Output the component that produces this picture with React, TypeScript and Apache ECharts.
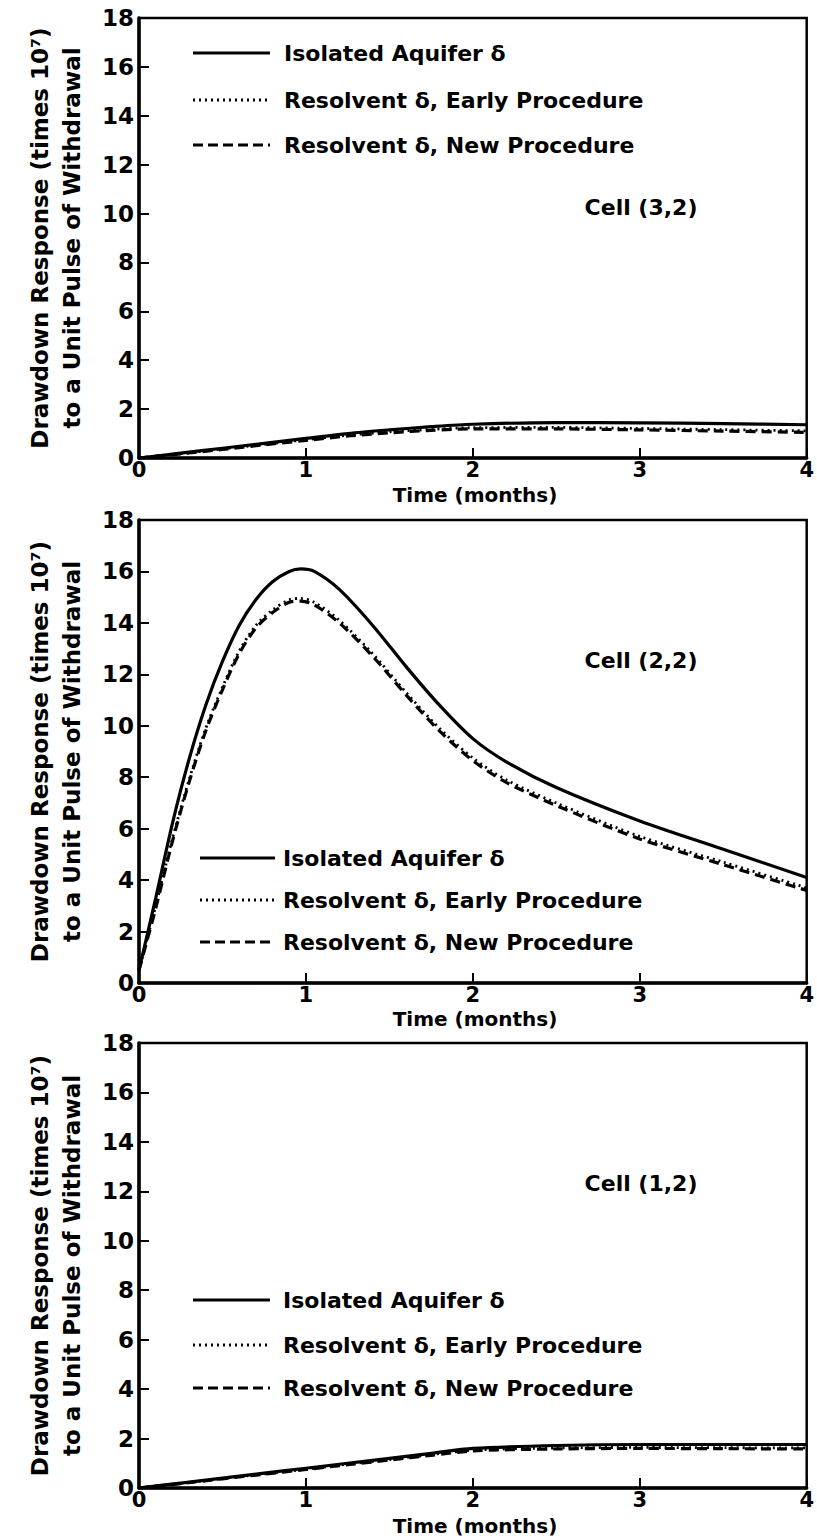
import React, { useEffect, useRef } from "react";
import * as echarts from "echarts";

// ---- Data ----
const TIME_A = [0, 0.25, 0.5, 0.75, 1, 1.25, 1.5, 1.75, 2, 2.5, 3, 3.5, 4];
const CELL32_ISOLATED = [0, 0.2, 0.4, 0.6, 0.8, 1.0, 1.15, 1.28, 1.38, 1.45, 1.44, 1.41, 1.36];
const CELL32_EARLY = [0, 0.18, 0.37, 0.56, 0.75, 0.93, 1.07, 1.17, 1.24, 1.25, 1.21, 1.16, 1.11];
const CELL32_NEW = [0, 0.17, 0.35, 0.54, 0.72, 0.9, 1.03, 1.13, 1.19, 1.19, 1.15, 1.1, 1.05];

const TIME_B = [0, 0.1, 0.2, 0.3, 0.4, 0.5, 0.6, 0.7, 0.8, 0.9, 0.97, 1.05, 1.2, 1.4, 1.6, 1.8, 2.0, 2.2, 2.5, 3.0, 3.5, 4.0];
const CELL22_ISOLATED = [0.5, 3.3, 6.2, 8.7, 10.8, 12.5, 13.9, 14.9, 15.6, 16.0, 16.1, 16.0, 15.3, 13.9, 12.3, 10.8, 9.5, 8.6, 7.6, 6.3, 5.2, 4.1];
const CELL22_EARLY = [0.5, 3.0, 5.6, 7.9, 9.9, 11.5, 12.9, 13.9, 14.5, 14.9, 14.95, 14.8, 14.1, 12.8, 11.3, 9.9, 8.75, 7.9, 7.0, 5.7, 4.7, 3.7];
const CELL22_NEW = [0.5, 2.9, 5.5, 7.8, 9.8, 11.4, 12.8, 13.8, 14.4, 14.8, 14.85, 14.7, 14.0, 12.7, 11.2, 9.8, 8.65, 7.8, 6.9, 5.6, 4.6, 3.6];

const CELL12_ISOLATED = [0, 0.2, 0.4, 0.6, 0.8, 1.0, 1.2, 1.4, 1.6, 1.72, 1.76, 1.76, 1.76];
const CELL12_EARLY = [0, 0.19, 0.38, 0.57, 0.76, 0.96, 1.15, 1.35, 1.53, 1.62, 1.64, 1.63, 1.62];
const CELL12_NEW = [0, 0.18, 0.37, 0.56, 0.75, 0.94, 1.13, 1.32, 1.5, 1.58, 1.6, 1.59, 1.58];

const X_TICKS = [0, 1, 2, 3, 4];
const Y_MAX = 18;
const SERIES_NAMES = ["Isolated Aquifer δ", "Resolvent δ, Early Procedure", "Resolvent δ, New Procedure"];
const CELL_LABELS = ["Cell (3,2)", "Cell (2,2)", "Cell (1,2)"];
const X_TITLE = "Time (months)";
const Y_TITLE_1 = "Drawdown Response (times 10⁷)";
const Y_TITLE_2 = "to a Unit Pulse of Withdrawal";

const FONT = "DejaVu Sans";

const pair = (t: number[], v: number[]) => t.map((x, i) => [x, v[i]]);

export default function App() {
  const ref = useRef<HTMLDivElement>(null);
  useEffect(() => {
    if (!ref.current) return;
    const chart = echarts.init(ref.current, undefined, { renderer: "svg" });

    const grids = [
      { top: 18, height: 440, titleY: 495 },
      { top: 520, height: 463, titleY: 1019 },
      { top: 1043, height: 445, titleY: 1526 },
    ];
    const left = 139;
    const right = 810;

    const panels = [
      { t: TIME_A, data: [CELL32_ISOLATED, CELL32_EARLY, CELL32_NEW] },
      { t: TIME_B, data: [CELL22_ISOLATED, CELL22_EARLY, CELL22_NEW] },
      { t: TIME_A, data: [CELL12_ISOLATED, CELL12_EARLY, CELL12_NEW] },
    ];

    const lineStyles = [
      { type: "solid" as any, width: 3.2 },
      { type: [2, 4] as any, width: 2.8 },
      { type: [10, 6] as any, width: 3.2 },
    ];

    const series: any[] = [];
    panels.forEach((p, gi) => {
      p.data.forEach((vals, si) => {
        series.push({
          type: "line",
          name: SERIES_NAMES[si],
          xAxisIndex: gi,
          yAxisIndex: gi,
          data: pair(p.t, vals),
          smooth: 0.3,
          showSymbol: false,
          symbol: "none",
          lineStyle: { color: "#000", ...lineStyles[si] },
          z: 3 - si,
        });
      });
    });

    const graphic: any[] = [];
    const legendPos = [
      { x1: 193, x2: 270, tx: 284, ys: [53, 100, 145] },
      { x1: 200, x2: 275, tx: 283, ys: [858, 900, 942] },
      { x1: 193, x2: 270, tx: 283, ys: [1300, 1345, 1388] },
    ];
    const cellPos = [
      { x: 641, y: 207 },
      { x: 641, y: 660 },
      { x: 641, y: 1183 },
    ];
    grids.forEach((g, gi) => {
      const cy = g.top + g.height / 2;
      graphic.push({
        type: "text",
        x: 40,
        y: cy,
        rotation: Math.PI / 2,
        style: { text: Y_TITLE_1, font: `bold 23px '${FONT}'`, fill: "#000", textAlign: "center", textVerticalAlign: "middle" },
      });
      graphic.push({
        type: "text",
        x: 72,
        y: cy,
        rotation: Math.PI / 2,
        style: { text: Y_TITLE_2, font: `bold 23px '${FONT}'`, fill: "#000", textAlign: "center", textVerticalAlign: "middle" },
      });
      graphic.push({
        type: "text",
        x: 475,
        y: g.titleY,
        style: { text: X_TITLE, font: `bold 20px '${FONT}'`, fill: "#000", textAlign: "center", textVerticalAlign: "middle" },
      });
      graphic.push({
        type: "text",
        x: cellPos[gi].x,
        y: cellPos[gi].y,
        style: { text: CELL_LABELS[gi], font: `bold 22px '${FONT}'`, fill: "#000", textAlign: "center", textVerticalAlign: "middle" },
      });
      const lp = legendPos[gi];
      SERIES_NAMES.forEach((name, si) => {
        graphic.push({
          type: "line",
          shape: { x1: lp.x1, y1: lp.ys[si], x2: lp.x2, y2: lp.ys[si] },
          style: { stroke: "#000", lineWidth: si === 1 ? 2.8 : 3.2, lineDash: si === 0 ? null : si === 1 ? [2, 4] : [10, 5] },
        });
        graphic.push({
          type: "text",
          x: lp.tx,
          y: lp.ys[si],
          style: { text: name, font: `bold 22px '${FONT}'`, fill: "#000", textAlign: "left", textVerticalAlign: "middle" },
        });
      });
    });

    chart.setOption({
      animation: false,
      backgroundColor: "#fff",
      grid: grids.map((g) => ({
        left,
        width: right - left,
        top: g.top,
        height: g.height,
        show: true,
        borderColor: "#000",
        borderWidth: 2.5,
        backgroundColor: "transparent",
      })),
      xAxis: grids.map((_, gi) => ({
        type: "value",
        gridIndex: gi,
        min: 0,
        max: 4,
        interval: 1,
        axisLine: { show: true, lineStyle: { color: "#000", width: 3.5 } },
        axisTick: { show: true, inside: true, length: 10, lineStyle: { color: "#000", width: 2 } },
        splitLine: { show: false },
        axisLabel: {
          color: "#000",
          fontFamily: FONT,
          fontWeight: "bold",
          fontSize: 21,
          margin: 1,
          formatter: (v: number) => (X_TICKS.includes(v) ? String(v) : ""),
        },
      })),
      yAxis: grids.map((_, gi) => ({
        type: "value",
        gridIndex: gi,
        min: 0,
        max: Y_MAX,
        interval: 2,
        axisLine: { show: true, lineStyle: { color: "#000", width: 3.5 } },
        axisTick: { show: true, inside: true, length: 10, lineStyle: { color: "#000", width: 2 } },
        splitLine: { show: false },
        axisLabel: {
          color: "#000",
          fontFamily: FONT,
          fontWeight: "bold",
          fontSize: 23,
          margin: 5,
        },
      })),
      series,
      graphic,
    });
    return () => chart.dispose();
  }, []);
  return <div ref={ref} style={{ position: "absolute", left: 0, top: 0, width: 817, height: 1539 }} />;
}
